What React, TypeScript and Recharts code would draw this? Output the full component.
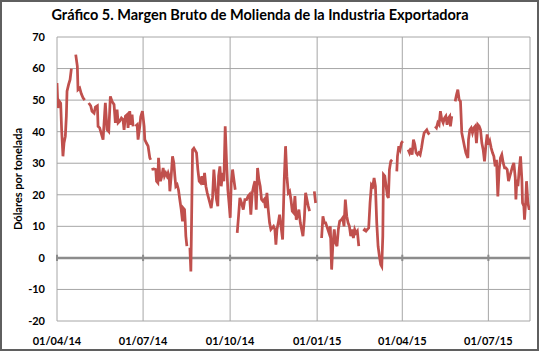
import {
  ComposedChart,
  Line,
  XAxis,
  YAxis,
  CartesianGrid,
  ReferenceLine,
} from 'recharts';

// días desde el 01/04/14 y margen bruto (US$/t); null = sin dato
const dayOffset = [
  0, 1, 2.5, 3.9, 4.9, 6.3, 7.4, 8.8, 9.9, 10.6, 12.3, 13.8, 15.2, 17, 19.8, 21.5, 22.2, 24, 25.7, 27.5,
  29.3, 31, 33.5, 35.6, 37, 39.2, 40.6, 42.7, 43.4, 45.1, 48.7, 50.4, 51.1, 52.9, 54.7, 56.4, 58.2, 60.3,
  61.7, 63.5, 64.6, 66.3, 68.1, 69.8, 70.9, 72.3, 74.1, 75.1, 76.9, 78, 79.4, 80.4, 81.7, 82.9, 84.7, 85.7,
  87.5, 88.5, 90.3, 92.1, 92.8, 94.5, 96.3, 98.1, 99.1, 99.5, 99.9, 102.3,
  104.4, 105.2, 106.6, 107.3, 108.7, 109.4, 110.8, 112.2, 113.6, 115, 116.4, 117.5, 118.6, 119.3, 120.7,
  122.1, 123.5, 124.6, 125.6, 127, 128.4, 129.8, 131.3, 132.7, 133.4, 134.8, 135.5, 136.2, 137.3, 138.8,
  140.5, 141.5, 143.3, 144.7, 147.5, 148.9, 150.3, 151.7, 153.1, 154.5, 156, 157.4, 158.8, 160.2, 161.6,
  163, 164.4, 165.8, 167.2, 168.6, 170, 170.8, 172.2, 173.6, 175, 176.4, 177.8, 179.2, 180.6, 182, 183.1,
  184.2, 185.6, 187, 188.4, 189.5, 190.5, 191.9, 193.3, 195.1, 196.9, 198.6,
  200.4, 202.1, 203.5, 204.9, 206.4, 207.8, 209.2, 210.6, 212, 213.4, 214.8, 216.2, 217.6, 219, 220.5,
  221.9, 223.3, 224.7, 226.1, 227.5, 228.9, 230.3, 231.4, 232.5, 233.9, 235.3, 238.5, 240.2, 241.6, 243,
  244.5, 245.9, 247.3, 248.7, 250.1, 251.5, 252.9, 254.3, 255.7, 257.2, 258.6, 260, 261.4, 262.8, 264.2,
  265.6, 267, 269, 272, 273.4, 276, 279.7, 281.1, 282.6, 284, 287.5, 288.9, 290.3, 291.7, 293.1, 294.5,
  296, 297.4, 298.8,
  300.6, 302, 303.4, 304.8, 306.3, 307.7, 309.1, 310.5, 311.9, 313.3, 314.7, 316.1, 317.5, 319, 321,
  323.9, 325.3, 326.7, 328.1, 329.5, 330.9, 332.4, 333.8, 335.2, 336.6, 338, 339.4, 340.8, 342.2, 343.3,
  344.4, 345.1, 346.5, 347.9, 349.3, 350.3, 351.4, 352.8, 354.2, 356.5, 359.2, 359.9, 361.3, 362.7, 364.1,
  365.5, 368, 371.2, 372.6, 374, 375.4, 376.8, 378.2, 379.6, 381, 382.4, 383.9, 385.3, 386.7, 388.1,
  389.5, 390.9, 392.3, 393.7, 396.5,
  399.7, 401.1, 402.5, 403.9, 405.3, 406.8, 408.2, 409.6, 411, 412.4, 413.8, 415.2, 415.9, 417.3, 419,
  420.9, 422.3, 423.7, 425.1, 426.5, 427.9, 429.3, 430.7, 432.2, 433.6, 434.3, 435, 436.4, 437.8, 439.2,
  440.6, 442, 443.4, 444.9, 446.3, 447.7, 449.1, 450.5, 451.9, 453.3, 454.7, 456.1, 457.5, 459, 460.4,
  461.8, 463.2, 464.6, 466, 467.4, 468.8, 470.2, 471.7, 473.1, 474.5, 475.9, 477.3, 478.7, 480.1, 481.5,
  482.9, 484.4, 485.1, 486.1, 487.2, 488.6, 490, 491.4, 492.1, 493.5, 494.2, 495.6, 496.3, 497.8, 499.2,
  500.2,
];

const marginValues: (number | null)[] = [
  55.4, 47.5, 49.6, 49, 40.6, 32.2, 36.4, 38.5, 45, 52.8, 55, 56.5, 60, null, 64.4, 60.7, 53.3, 53.8, 52, 50.7,
  50, null, 49.1, 48.2, 46.5, 45.9, 47.8, 48.2, 41.7, 41.2, 37.5, 45.9, 49.1, 40.6, 40, 51.2, 49.6, 48.6,
  42.8, 47, 42.8, 43.3, 44.3, 43.8, 40.6, 44.9, 45.4, 41.2, 46.5, 42.2, 45.4, 41.7, null, 41.7, 42.2, 37.5,
  41.7, 44.7, 46.5, 41.7, 37.5, 36.4, 35.4, 31.7, 31.1, null, 28, 28.2,
  28, 24.3, 23.8, 31.7, 25.9, 24.3, 25.9, 28.5, 25.9, 26.9, 25.9, 26.9, 25.9, 21.1, 25.9,
  32.2, 30.1, 25.9, 22.7, 23.2, 21.6, 18.5, 15.3, 11.6, 15.8, 15.3, 11.6, 6.9, 3.7, null,
  3.2, -4.3, 34.3, 34.8, 33.3, 28, 24.3, 23.8, 25.9, 23.2, 26.9, 22.7, 20.6, 19, 17.4,
  15.8, 19, 28, 22.7, 18.5, 16.4, 25.9, 29, 22.7, 26.9, 24.3, 41.7, 30.6, 21.6, 16.9, 12.7,
  23.8, 28, 24.8, 21.6, null, 7.9, 13.2, 19, 17.4, 15.3, 18.5,
  18.5, 19.6, 20.1, 13.7, 20.6, 22.7, 24.3, 15.3, 28.5, 24.8, 22.7, 18.5, 18, 18.5, 15.8,
  20.6, 15.3, 11.1, 9, 9.5, 10, 9, 4.2, 9, 11.1, 13.7, 5.8, 24.8, 35.4, 25.9,
  20.6, 21.1, 18.5, 14.8, 14.3, 19.6, 12.1, 13.2, 15.3, 11.1, 9, 6.9, 12.1, 20.6, 18.5,
  16.4, 14.8, null, 21.1, 17.4, null, 6.3, 13.2, 11.1, 11.1, 7.9, 10, -3.7, 4.7, 9, 4.7,
  3.7, 9, 11.6,
  12.1, 12.7, 10, 18.5, 13.2, 11.1, 10, 6.9, 9, 6.3, 9, 7.9, 8.5, 3.7, null,
  8.5, 9, 8.5, 9, 9.5, 17.4, 23.2, 22.7, 25.3, 22.7, 11.1, 3.7, 0.5, -2.1, -2.7,
  6.9, 26.4, 25.9, 22.7, 19.6, 19, 28, 30.6, 31.1, null, 27.4, 32.2, 35.4, 34.3, 36.4,
  37, null, 34.3, 33.3, 34.8, 32.7, 37.5, 36, 33.3, 32.7, 33.3, 32.7, 34.8, 37.5, 39.6,
  40.1, 40.6, 39.6, 39.1, null,
  41.7, 41.2, 42.8, 42.2, 46.5, 43.8, 42.8, 44.3, 44.9, 42.2, 44.3, 44.9, 41.7, 44.9, null,
  49.6, 51.7, 53.3, 50.1, 49.6, 39.6, 37.5, 35.4, 33.3, 32.2, 31.7, 37.5, 40.6, 41.2, 39.6,
  41.2, 41.7, 36.4, 42.2, 41.7, 40.6, 36.4, 34.3, 30.6, 35.4, 39.1, 35.9, 37, 34.8, 33.3,
  32.2, 29, 31.1, 19.5, 28, 31.7, 32.7, 30.1, 28.5, 28.5, 28, 24.3, 25.9, 27.4, 29,
  30.1, 25.4, 18.5, 24.8, 22.7, 28, 32.2, 24.8, 17.4, 16.4, 12.1, 18.5, 24.3, 17.4, 15.3,
  16.4,
];

const tickDays = [0, 91, 183, 275, 365, 456];
const tickLabels = ['01/04/14', '01/07/14', '01/10/14', '01/01/15', '01/04/15', '01/07/15'];
const yTicks = [-20, -10, 0, 10, 20, 30, 40, 50, 60, 70];

const rows = dayOffset.map((d, i) => ({ day: d, margen: marginValues[i] }));

const FONT = 'Lato, "Noto Sans", sans-serif';
const tickStyle = { fontSize: 11, fontWeight: 700, fill: '#000', fontFamily: FONT };

export default function App() {
  return (
    <div style={{ position: 'absolute', left: 0, top: 0, width: 539, height: 351, background: '#fff' }}>
      <ComposedChart
        width={539}
        height={351}
        data={rows}
        margin={{ top: 37, right: 9, left: 0, bottom: 0 }}
      >
        <CartesianGrid stroke="#a6a6a6" strokeWidth={1} />
        <XAxis
          dataKey="day"
          type="number"
          domain={[0, 500]}
          ticks={tickDays}
          tickFormatter={(v) => tickLabels[tickDays.indexOf(v)] ?? ''}
          interval={0}
          axisLine={false}
          tickLine={false}
          height={30}
          tickMargin={10}
          tick={tickStyle}
          allowDataOverflow
        />
        <YAxis
          type="number"
          domain={[-20, 70]}
          ticks={yTicks}
          interval={0}
          axisLine={false}
          tickLine={false}
          width={57}
          tickMargin={6}
          tick={tickStyle}
        />
        <ReferenceLine y={0} stroke="#8c8c8c" strokeWidth={2.5} />
        {tickDays.map((d) => (
          <ReferenceLine
            key={d}
            segment={[{ x: d, y: -1 }, { x: d, y: 1 }]}
            stroke="#8c8c8c"
            strokeWidth={2}
          />
        ))}
        <Line
          dataKey="margen"
          type="linear"
          stroke="#c0504d"
          strokeWidth={2.75}
          dot={false}
          connectNulls={false}
          isAnimationActive={false}
        />
      </ComposedChart>
      <div
        style={{
          position: 'absolute',
          left: 0,
          top: 6,
          width: 520,
          textAlign: 'center',
          fontFamily: FONT,
          fontWeight: 700,
          fontSize: 14.5,
          color: '#000',
          whiteSpace: 'nowrap',
        }}
      >
        Gráfico 5. Margen Bruto de Molienda de la Industria Exportadora
      </div>
      <div
        style={{
          position: 'absolute',
          left: 17,
          top: 179,
          transform: 'translate(-50%, -50%) rotate(-90deg)',
          fontFamily: FONT,
          fontWeight: 700,
          fontSize: 11,
          color: '#000',
          whiteSpace: 'nowrap',
        }}
      >
        Dólares por tonelada
      </div>
      <div
        style={{
          position: 'absolute',
          inset: 0,
          border: '2px solid #5f5f5f',
          pointerEvents: 'none',
        }}
      />
    </div>
  );
}
